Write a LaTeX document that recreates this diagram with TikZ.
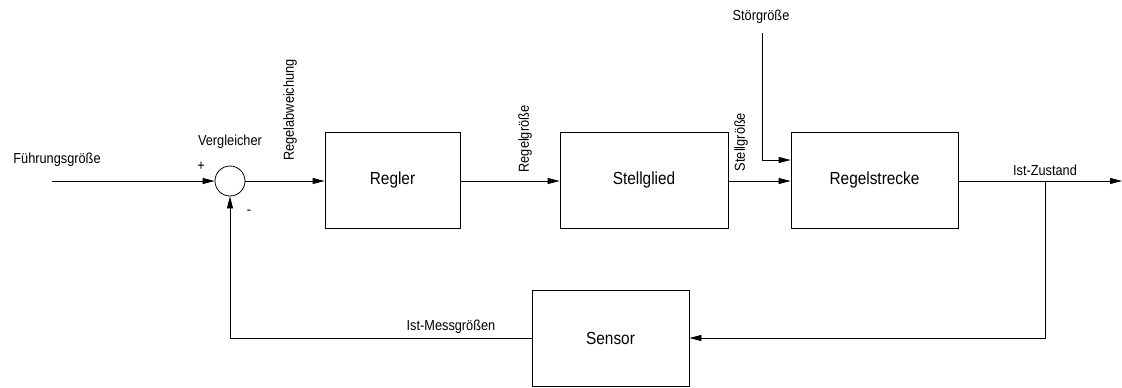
\documentclass[tikz,border=0pt]{standalone}
\usepackage{fontspec}
\setmainfont{Liberation Sans}[FakeStretch=0.88]
\usetikzlibrary{arrows.meta}
\begin{document}
\begin{tikzpicture}[x=1pt,y=-1pt,
  line width=0.8pt,
  blk/.style={draw, minimum width=#1, minimum height=96pt, inner sep=0pt, font=\fontsize{17.5}{20}\selectfont},
  blk/.default=135pt,
  lbl/.style={font=\fontsize{14.5}{16}\selectfont, inner sep=0pt},
  sig/.style={-{Triangle[length=12pt,width=6pt]}},
]
\useasboundingbox (0,0) rectangle (1122,388);

% blocks
\node[circle, draw, minimum size=30pt, inner sep=0pt] (cmp) at (230,181) {};
\node[blk=135pt] (regler) at (392.5,180) {Regler};
\node[blk=168pt] (stell) at (644,180) {Stellglied};
\node[blk=167pt] (strecke) at (874.5,180) {Regelstrecke};
\node[blk=157pt] (sensor) at (610.5,338) {Sensor};

% signal points
\coordinate (w) at (52,181);
\coordinate (z) at (762,33);
\coordinate (zk) at (762,160);
\coordinate (out) at (1122,181);
\coordinate (br) at (1045,181);
\coordinate (brd) at (1045,338);
\coordinate (fb) at (230,338);

% connectors
\draw[sig] (w) -- (cmp.west);
\draw[sig] (cmp.east) -- (regler.west |- cmp.east);
\draw[sig] (regler.east |- 0,181) -- (stell.west |- 0,181);
\draw[sig] (stell.east |- 0,181) -- (strecke.west |- 0,181);
\draw[sig] (z) -- (zk) -- (strecke.west |- zk);
\draw[sig] (strecke.east |- 0,181) -- (out);
\draw[sig] (br) -- (brd) -- (sensor.east);
\draw[sig] (sensor.west) -- (fb) -- (cmp.south);

% labels
\node[lbl] (lw) at (57,160) {Führungsgröße};
\node[lbl] (lcmp) at (230,142) {Vergleicher};
\node[lbl] (lplus) at (201,166) {+};
\node[lbl] (lminus) at (249,212) {-};
\node[lbl, rotate=90] (le) at (290,110) {Regelabweichung};
\node[lbl, rotate=90] (ly) at (525,139) {Regelgröße};
\node[lbl, rotate=90] (lu) at (741,142) {Stellgröße};
\node[lbl] (lz) at (761,17) {Störgröße};
\node[lbl] (lx) at (1045,170) {Ist-Zustand};
\node[lbl] (lm) at (451,327) {Ist-Messgrößen};
\end{tikzpicture}
\end{document}
